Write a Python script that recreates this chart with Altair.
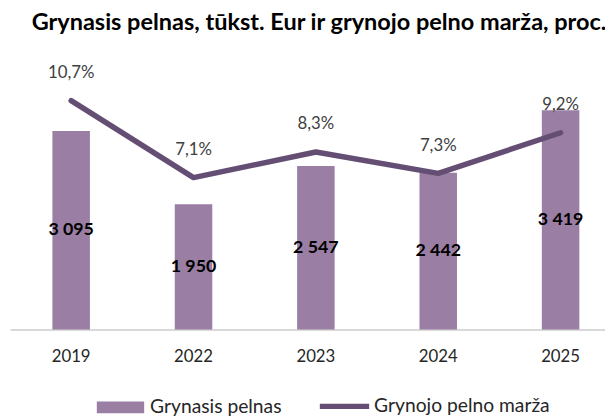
import altair as alt
import pandas as pd

years = ["2019", "2022", "2023", "2024", "2025"]
profit = [3095, 1950, 2547, 2442, 3419]
profit_labels = ["3 095", "1 950", "2 547", "2 442", "3 419"]
margin = [10.7, 7.1, 8.3, 7.3, 9.2]
margin_labels = ["10,7%", "7,1%", "8,3%", "7,3%", "9,2%"]

BAR = "#9a7ea3"
LINE = "#654e73"
FONT = "Lato"

df = pd.DataFrame({
    "year": years,
    "profit": profit,
    "half": [p / 2 for p in profit],
    "plab": profit_labels,
    "margin": margin,
    "mlab": margin_labels,
    "s1": ["Grynasis pelnas"] * 5,
    "s2": ["Grynojo pelno marža"] * 5,
})

xenc = alt.X("year:N", sort=years,
             scale=alt.Scale(range=[0, 620], paddingInner=0.685, paddingOuter=0.3425),
             axis=alt.Axis(title=None, labelAngle=0, labelFont=FONT, labelFontSize=17,
                           labelColor="#262626", labelPadding=20, ticks=False,
                           domainColor="#d9d9d9", domainWidth=2, grid=False))

ybar = alt.Scale(domain=[0, 4000])
yline = alt.Scale(domain=[0, 12])

base = alt.Chart(df)

bars = base.mark_bar(size=38).encode(
    x=xenc,
    y=alt.Y("profit:Q", scale=ybar, axis=None),
    color=alt.Color("s1:N", scale=alt.Scale(range=[BAR]),
                    legend=alt.Legend(title=None, orient="none", legendX=88, legendY=315,
                                      symbolType="M-1,-0.25H1V0.25H-1Z", symbolSize=2304,
                                      symbolStrokeWidth=0, labelFont=FONT, labelFontSize=19.5,
                                      labelColor="#262626", labelOffset=6, padding=0,
                                      labelLimit=400)),
)

bar_text = base.mark_text(font=FONT, fontSize=18, fontWeight="bold", color="#000000").encode(
    x=alt.X("year:N", sort=years),
    y=alt.Y("half:Q", scale=ybar, axis=None),
    text="plab:N",
)

line = base.mark_line(strokeWidth=5.5, strokeCap="round", strokeJoin="round").encode(
    x=alt.X("year:N", sort=years),
    y=alt.Y("margin:Q", scale=yline, axis=None),
    stroke=alt.Stroke("s2:N", scale=alt.Scale(range=[LINE]),
                      legend=alt.Legend(title=None, orient="none", legendX=311, legendY=310,
                                        symbolType="stroke", symbolSize=2500,
                                        symbolStrokeWidth=5.5, labelFont=FONT, labelFontSize=19.5,
                                        labelColor="#262626", labelOffset=2, padding=0,
                                        labelLimit=400)),
)

line_text = base.mark_text(font=FONT, fontSize=17, color="#404040", dy=-28).encode(
    x=alt.X("year:N", sort=years),
    y=alt.Y("margin:Q", scale=yline, axis=None),
    text="mlab:N",
)

chart = alt.layer(
    alt.layer(bars, bar_text),
    alt.layer(line, line_text),
).resolve_scale(y="independent").properties(
    width=603,
    height=260,
    title=alt.TitleParams("Grynasis pelnas, tūkst. Eur ir grynojo pelno marža, proc.",
                          font=FONT, fontSize=23.8, fontWeight="bold", color="#000000",
                          anchor="start", dx=22, offset=30),
    autosize=alt.AutoSizeParams(type="none"),
    padding={"left": 2, "top": 63, "right": 0, "bottom": 85},
).configure_view(stroke=None)

chart.save("out.html", embed_options={"renderer": "svg", "actions": False})
